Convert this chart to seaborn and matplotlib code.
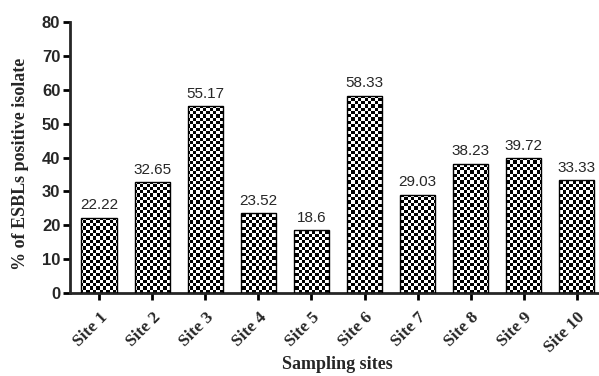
import numpy as np
import pandas as pd
import matplotlib
matplotlib.use("Agg")
import matplotlib.pyplot as plt
import seaborn as sns

sites = ["Site 1", "Site 2", "Site 3", "Site 4", "Site 5",
         "Site 6", "Site 7", "Site 8", "Site 9", "Site 10"]
percent = [22.22, 32.65, 55.17, 23.52, 18.6, 58.33, 29.03, 38.23, 39.72, 33.33]
labels = ["22.22", "32.65", "55.17", "23.52", "18.6",
          "58.33", "29.03", "38.23", "39.72", "33.33"]

df = pd.DataFrame({"site": sites, "pct": percent})

sns.set_style("ticks")
fig = plt.figure(figsize=(5.99, 3.76), dpi=100)
ax = fig.add_axes([0.117, 0.221, 0.883, 0.72])

sns.barplot(data=df, x="site", y="pct", ax=ax, color="white",
            edgecolor="black", linewidth=1.0, width=0.67)

ax.set_xlim(-0.55, 9.42)
ax.set_ylim(0, 80)

# checkerboard fill clipped to each bar
ny, nx = 82, 160
yy, xx = np.mgrid[0:ny, 0:nx]
board = ((xx + yy) % 2).astype(float)
for bar in ax.patches:
    im = ax.imshow(board, cmap="gray", extent=(-0.55, 9.42, 0, 80),
                   aspect="auto", interpolation="nearest", zorder=2)
    im.set_clip_path(bar)
    bar.set_zorder(3)
    bar.set_facecolor("none")

for bar, txt in zip(ax.patches, labels):
    ax.text(bar.get_x() + bar.get_width() / 2, bar.get_height() + 1.6, txt,
            ha="center", va="bottom", fontsize=11, family="Liberation Sans",
            zorder=4)

ax.set_yticks(range(0, 81, 10))
ax.set_yticklabels([str(v) for v in range(0, 81, 10)],
                   fontsize=12, fontweight="bold", family="Liberation Sans")
ax.set_xticks(range(len(sites)))
ax.set_xticklabels(sites, rotation=45, ha="right", rotation_mode="anchor",
                   fontsize=12.5, fontweight="bold", family="Liberation Serif")

ax.set_ylabel("% of ESBLs positive isolate", fontsize=13, fontweight="bold",
              family="Liberation Serif", va="center")
ax.yaxis.set_label_coords(-0.094, 0.476)
ax.set_xlabel("Sampling sites", fontsize=13, fontweight="bold",
              family="Liberation Serif")
ax.xaxis.set_label_coords(0.505, -0.232)

sns.despine(ax=ax)
for s in ["left", "bottom"]:
    ax.spines[s].set_linewidth(2)
ax.tick_params(axis="both", width=2, length=5, color="black", pad=2)
ax.tick_params(axis="x", pad=7)

fig.savefig("out.png", dpi=100)
